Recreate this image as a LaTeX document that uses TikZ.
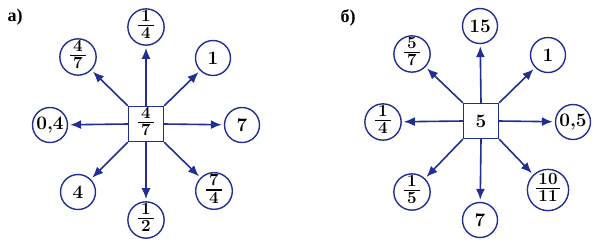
\documentclass[tikz,border=0pt]{standalone}
\usepackage{fontspec}
\newfontfamily\cyr{Liberation Serif}
\usetikzlibrary{arrows.meta}
\definecolor{bl}{RGB}{32,46,150}
\newcommand{\fr}[2]{{\fontsize{17}{17}\selectfont\bfseries\setlength{\arrayrulewidth}{1.2pt}\renewcommand{\arraystretch}{0.9}\begin{tabular}{@{\,}c@{\,}}#1\\[-1pt]\hline\rule{0pt}{12.5pt}#2\end{tabular}}}
\tikzset{
  num/.style={circle,draw=bl,line width=1.4pt,minimum size=35pt,inner sep=0pt,
    font=\fontsize{19}{22}\selectfont\bfseries},
  sq/.style={rectangle,draw=bl,line width=1.4pt,minimum size=35pt,inner sep=0pt,
    font=\fontsize{19}{22}\selectfont\bfseries},
  arr/.style={draw=bl,line width=1.6pt,-{Latex[length=11pt,width=9pt]},shorten >=2pt},
  lab/.style={font=\fontsize{18}{20}\selectfont\cyr\bfseries,inner sep=0pt}
}
\begin{document}
\begin{tikzpicture}[x=1pt,y=-1pt]
\useasboundingbox (0,0) rectangle (604,250);
% left diagram
\node[lab] (la) at (15,17) {а)};
\node[sq] (A) at (146,124) {\fr{4}{7}};
\node[num] (a1) at (146,27) {\fr{1}{4}};
\node[num] (a2) at (78,57) {\fr{4}{7}};
\node[num] (a3) at (213,58) {1};
\node[num] (a4) at (50,125) {0,4};
\node[num] (a5) at (242,125) {7};
\node[num] (a6) at (78,192) {4};
\node[num] (a7) at (146,220) {\fr{1}{2}};
\node[num] (a8) at (214,191) {\fr{7}{4}};
\draw[arr] (A.north) -- (a1);
\draw[arr] (A.north west) -- (a2);
\draw[arr] (A.north east) -- (a3);
\draw[arr] (A.west) -- (a4);
\draw[arr] (A.east) -- (a5);
\draw[arr] (A.south west) -- (a6);
\draw[arr] (A.south) -- (a7);
\draw[arr] (A.south east) -- (a8);
% right diagram
\node[lab] (lb) at (348,18) {б)};
\node[sq] (B) at (481,121) {5};
\node[num] (b1) at (480,26) {15};
\node[num] (b2) at (412,54) {\fr{5}{7}};
\node[num] (b3) at (548,55) {1};
\node[num] (b4) at (383,122) {\fr{1}{4}};
\node[num] (b5) at (573,122) {0,5};
\node[num] (b6) at (412,192) {\fr{1}{5}};
\node[num] (b7) at (480,220) {7};
\node[num] (b8) at (548,190) {\fr{10}{11}};
\draw[arr] (B.north) -- (b1);
\draw[arr] (B.north west) -- (b2);
\draw[arr] (B.north east) -- (b3);
\draw[arr] (B.west) -- (b4);
\draw[arr] (B.east) -- (b5);
\draw[arr] (B.south west) -- (b6);
\draw[arr] (B.south) -- (b7);
\draw[arr] (B.south east) -- (b8);
\end{tikzpicture}
\end{document}
